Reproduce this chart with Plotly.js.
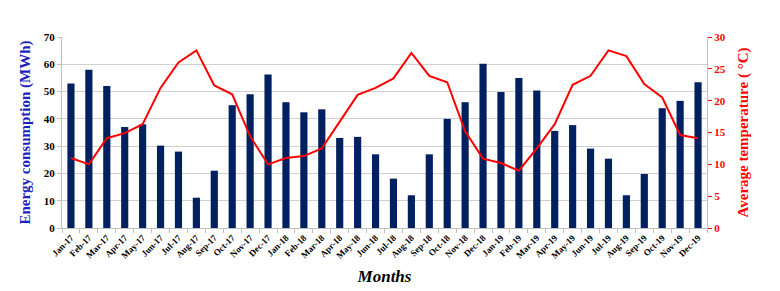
<!DOCTYPE html>
<html>
<head>
<meta charset="utf-8">
<script src="https://cdn.plot.ly/plotly-3.0.1.min.js"></script>
<style>html,body{margin:0;padding:0;background:#fff}#chart{width:780px;height:291px}</style>
</head>
<body>
<div id="chart"></div>
<script>
const months = ["Jan-17","Feb-17","Mar-17","Apr-17","May-17","Jun-17","Jul-17","Aug-17","Sep-17","Oct-17","Nov-17","Dec-17",
"Jan-18","Feb-18","Mar-18","Apr-18","May-18","Jun-18","Jul-18","Aug-18","Sep-18","Oct-18","Nov-18","Dec-18",
"Jan-19","Feb-19","Mar-19","Apr-19","May-19","Jun-19","Jul-19","Aug-19","Sep-19","Oct-19","Nov-19","Dec-19"];
const energy = [53,58,52,37,38,30.2,28,11.1,21,45,49,56.3,
46.1,42.4,43.5,33,33.4,27,18.1,12,27,40,46.1,60.2,
49.8,55,50.4,35.6,37.7,29.1,25.4,12,19.8,43.9,46.6,53.4];
const temperature = [11,10,14.1,14.9,16.3,22,26,27.9,22.4,21,14.4,10,
11,11.3,12.5,16.7,20.9,22,23.5,27.5,23.9,22.9,15.2,10.9,
10.2,9,12.5,16.3,22.5,23.9,27.9,27,22.6,20.5,14.6,14.1];

const serif = "Liberation Serif, Times New Roman, serif";
const data = [
  {type:"bar", x:months, y:energy, marker:{color:"#002060"}, yaxis:"y", hoverinfo:"skip"},
  {type:"scatter", mode:"lines", x:months, y:temperature, line:{color:"#ff0000", width:2}, yaxis:"y2", hoverinfo:"skip"}
];
const layout = {
  width:780, height:291,
  margin:{l:62, r:73, t:37, b:63},
  paper_bgcolor:"#fff", plot_bgcolor:"#fff",
  showlegend:false,
  bargap:0.6,
  xaxis:{
    type:"category", tickangle:-45,
    tickfont:{family:serif, size:9, color:"#000", weight:"bold"},
    showline:true, linecolor:"#bfbfbf", linewidth:1,
    ticks:"outside", tickson:"boundaries", ticklen:4, tickcolor:"#bfbfbf",
    showgrid:false,
    title:{text:"<i>Months</i>", font:{family:serif, size:17, color:"#000", weight:"bold"}, standoff:10}
  },
  yaxis:{
    range:[0,70], dtick:10,
    showgrid:true, gridcolor:"#d0d0d0", gridwidth:1,
    showline:true, linecolor:"#bfbfbf", zeroline:false,
    ticks:"outside", ticklen:4, tickcolor:"#bfbfbf",
    tickfont:{family:serif, size:11, color:"#000", weight:"bold"},
    title:{text:"Energy consumption (MWh)", font:{family:serif, size:15, color:"#1f1fbf", weight:"bold"}, standoff:9}
  },
  yaxis2:{
    range:[0,30], dtick:5, overlaying:"y", side:"right",
    showgrid:false, zeroline:false,
    showline:true, linecolor:"#bfbfbf",
    ticks:"outside", ticklen:4, tickcolor:"#ff0000",
    tickfont:{family:serif, size:11, color:"#ff0000", weight:"bold"},
    title:{text:"Average temperature ( °C)", font:{family:serif, size:15, color:"#ff0000", weight:"bold"}, standoff:12}
  }
};
Plotly.newPlot("chart", data, layout, {displayModeBar:false, staticPlot:true});
</script>
</body>
</html>
